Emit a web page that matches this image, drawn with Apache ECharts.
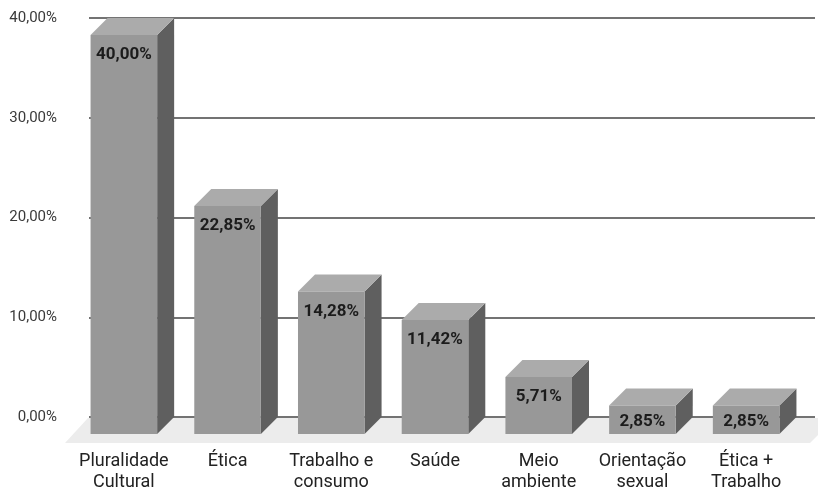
<!DOCTYPE html>
<html>
<head>
<meta charset="utf-8">
<script src="https://cdn.jsdelivr.net/npm/echarts@6/dist/echarts.min.js"></script>
<style>
html,body{margin:0;padding:0;background:#fff;}
#chart{width:818px;height:489px;}
</style>
</head>
<body>
<div id="chart"></div>
<script>
const categories = ['Pluralidade\nCultural', 'Ética', 'Trabalho e\nconsumo', 'Saúde', 'Meio\nambiente', 'Orientação\nsexual', 'Ética +\nTrabalho'];
const values = [40.00, 22.85, 14.28, 11.42, 5.71, 2.85, 2.85];
const yTicks = [0, 10, 20, 30, 40];

const fmt = v => v.toFixed(2).replace('.', ',') + '%';
const DEPTH = 17;

const chart = echarts.init(document.getElementById('chart'), null, {renderer: 'canvas'});
chart.setOption({
  animation: false,
  backgroundColor: '#ffffff',
  grid: {left: 89, right: 3, top: 18, bottom: 72, containLabel: false, outerBoundsMode: 'none'},
  xAxis: {
    type: 'category',
    data: categories,
    axisLine: {show: false},
    axisTick: {show: false},
    axisLabel: {
      interval: 0,
      margin: 34,
      fontFamily: 'Roboto',
      fontSize: 18,
      lineHeight: 21,
      color: '#222222',
      padding: [0, DEPTH * 2, 0, 0]
    }
  },
  yAxis: {
    type: 'value',
    min: yTicks[0],
    max: yTicks[yTicks.length - 1],
    interval: 10,
    axisLine: {show: false},
    axisTick: {show: false},
    axisLabel: {
      margin: 32,
      fontFamily: 'Roboto',
      fontSize: 15,
      color: '#3a3a3a',
      formatter: v => fmt(v)
    },
    splitLine: {lineStyle: {color: '#444444', width: 1.5}}
  },
  series: [
    {
      type: 'custom',
      z: 1,
      silent: true,
      data: [[0, 0]],
      renderItem: function (params, api) {
        const cs = params.coordSys;
        const ty = cs.y + cs.height + 1;
        const by = ty + 25;
        return {
          type: 'polygon',
          shape: {points: [[cs.x - 1, ty], [cs.x + cs.width + 20, ty], [cs.x + cs.width - 5, by], [cs.x - 24, by]]},
          style: {fill: '#ececec'}
        };
      }
    },
    {
      type: 'custom',
      z: 3,
      data: values.map((v, i) => [i, v]),
      renderItem: function (params, api) {
        const cat = api.value(0), val = api.value(1);
        const base = api.coord([cat, 0]);
        const top = api.coord([cat, val]);
        const band = api.size([1, 0])[0];
        const w = band * 0.642;
        const d = DEPTH;
        const fl = base[0] - w / 2 - d, fr = base[0] + w / 2 - d;
        const ft = top[1] + d, fb = base[1] + d;
        const ly = Math.min(ft + 20, fb - 12);
        return {
          type: 'group',
          children: [
            {type: 'polygon', shape: {points: [[fr, ft], [fr + d, ft - d], [fr + d, fb - d], [fr, fb]]}, style: {fill: '#5f5f5f'}},
            {type: 'polygon', shape: {points: [[fl, ft], [fr, ft], [fr + d, ft - d], [fl + d, ft - d]]}, style: {fill: '#ababab'}},
            {type: 'rect', shape: {x: fl, y: ft, width: fr - fl, height: fb - ft}, style: {fill: '#989898'}},
            {type: 'text', style: {x: (fl + fr) / 2, y: ly, text: fmt(val), fill: '#1c1c1c', font: 'bold 17px Roboto', textAlign: 'center', textVerticalAlign: 'middle'}}
          ]
        };
      }
    }
  ]
});
</script>
</body>
</html>
